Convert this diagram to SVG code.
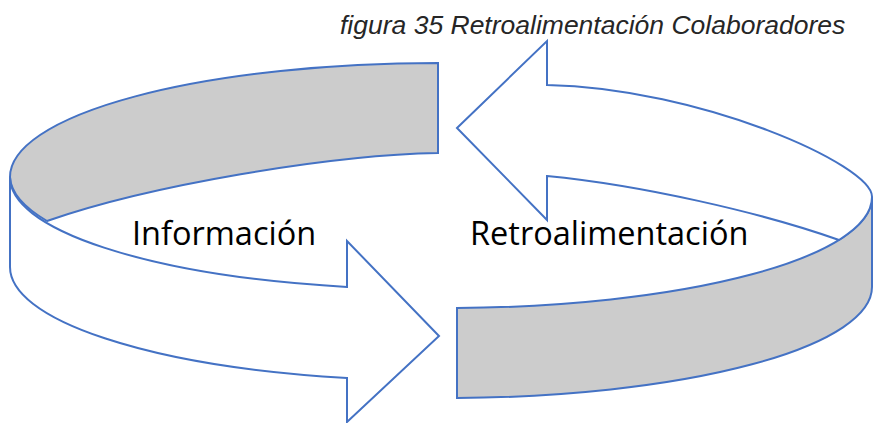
<svg xmlns="http://www.w3.org/2000/svg" width="874" height="423" viewBox="0 0 874 423">
  <style>
    .band { stroke: #4472C4; stroke-width: 2; stroke-linejoin: miter; }
    .grey { fill: #CCCCCC; }
    .white { fill: #FFFFFF; }
    .label { font-family: "Open Sans", "Noto Sans", sans-serif; font-size: 32.5px; fill: #000000; }
    .title { font-family: "Liberation Sans", Arial, sans-serif; font-style: italic; font-size: 26.5px; fill: #262626; }
  </style>
  <rect width="874" height="423" fill="#FFFFFF"/>
  <text class="title" x="340" y="34">figura 35 Retroalimentación Colaboradores</text>
  <g id="connectors">
    <g id="arrow-informacion">
      <path class="band grey" d="M 10,177 A 428 114 0 0 1 438,63 L 438,153 C 330,155 150,185 47,221 A 428 112 0 0 1 10,177 Z"/>
      <path class="band white" d="M 347,287 A 428 112 0 0 1 10,177 L 10,267 A 428 113.6 0 0 0 347,378 L 347,422 L 439,336 L 347,241 Z"/>
    </g>
    <g id="arrow-retroalimentacion">
      <path class="band grey" d="M 457,308 A 425 111 0 0 0 872,197 L 872,287 A 425 111 0 0 1 457,398 Z"/>
      <path class="band white" d="M 457,128 L 547,41 L 547,85 C 700,88 873,165 872,197 A 425 111 0 0 1 839,240 C 760,212 640,185 547,176 L 547,220 Z"/>
    </g>
  </g>
  <g id="node-informacion">
    <text class="label" x="132" y="245">Información</text>
  </g>
  <g id="node-retroalimentacion">
    <text class="label" x="470" y="245">Retroalimentación</text>
  </g>
</svg>
